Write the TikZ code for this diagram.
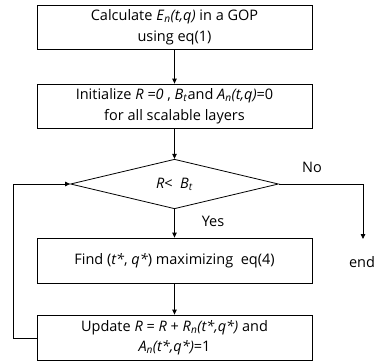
\documentclass[tikz,border=0pt]{standalone}
\usepackage{fontspec}
\setmainfont{Open Sans}
\usetikzlibrary{arrows.meta,shapes.geometric}
\newcommand{\itsub}[2]{\textit{#1}\textsubscript{\textit{#2}}}
\begin{document}
\begin{tikzpicture}[x=1pt,y=-1pt,
  font=\fontsize{14.5}{20.5}\selectfont,
  procbox/.style={draw,line width=0.8pt,minimum width=275pt,minimum height=44pt,align=center,inner sep=0pt},
  flow/.style={draw,line width=0.8pt,-{Triangle[length=5pt,width=4.5pt]}},
  lbl/.style={inner sep=0pt}]
\useasboundingbox (0,0) rectangle (379,361);
% process steps
\node[procbox] (calc) at (174.5,27) {Calculate \itsub{E}{n}\textit{(t,q)} in a GOP\\using eq(1)};
\node[procbox] (init) at (174.5,106) {Initialize \textit{R =0} , \itsub{B}{t}and \itsub{A}{n}\textit{(t,q)}=0\\for all scalable layers};
\node[draw,line width=0.8pt,diamond,minimum width=208pt,minimum height=44pt,inner sep=0pt] (cond) at (174.5,184) {\textit{R}<\ \ \itsub{B}{t}};
\node[procbox,minimum height=45pt] (find) at (174.5,260.5) {Find (\textit{t*}, \textit{q*}) maximizing\ \ eq(4)};
\node[procbox,minimum height=45pt] (upd) at (174.5,337.5) {Update \textit{R} = \textit{R} + \itsub{R}{n}\textit{(t*,q*)} and\\\itsub{A}{n}\textit{(t*,q*)}=1};
% labels
\node[lbl] (no) at (312,167) {No};
\node[lbl] (yes) at (213,221) {Yes};
\node[lbl] (endl) at (362,262) {end};
\coordinate (noturn) at (363,184);
\coordinate (noend) at (363,239);
\coordinate (loopb) at (13,338);
\coordinate (loopt) at (13,184);
% connectors
\draw[flow] (calc) -- (init);
\draw[flow] (init) -- (cond);
\draw[flow] (cond) -- (find);
\draw[flow] (find) -- (upd);
\draw[flow] (cond.east) -- (noturn) -- (noend);
\draw[flow] (upd.west |- loopb) -- (loopb) -- (loopt) -- (cond.west);
\end{tikzpicture}
\end{document}
